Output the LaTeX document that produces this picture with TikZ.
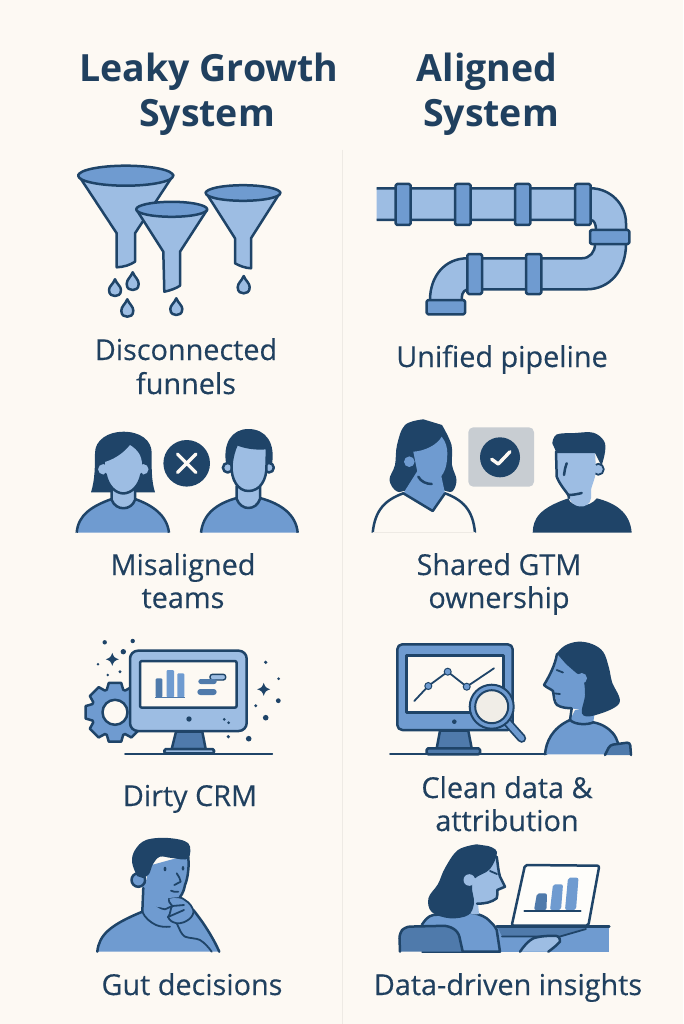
\documentclass[tikz,border=0pt]{standalone}
\usepackage{fontspec}
\setmainfont{Open Sans}
\newfontfamily\labfont[FakeBold=0.35]{Open Sans}
\definecolor{bgc}{HTML}{FDF9F3}
\definecolor{dk}{HTML}{1F4468}
\definecolor{dk2}{HTML}{4F7AAB}
\definecolor{md}{HTML}{6F9BD0}
\definecolor{lt}{HTML}{9DBDE3}
\definecolor{ttl}{HTML}{20405F}
\definecolor{badge}{HTML}{C8CDD2}
\tikzset{
 ol/.style={draw=dk,line width=2.5pt,line join=round,line cap=round},
 ln/.style={draw=dk,line width=1.8pt,line join=round,line cap=round},
 sm/.style={smooth,tension=0.6},
 title/.style={text=ttl,font=\fontsize{37.5}{37.5}\selectfont\bfseries,anchor=base},
 label/.style={text=ttl,font=\labfont\fontsize{28.8}{28.8}\selectfont,anchor=base},
}
\newcommand{\drop}[3]{\draw[ol,fill=lt] (#1,#2) .. controls (#1+2,#2+5) and (#1+6,#2+7) .. (#1+6,#3-6) .. controls (#1+6,#3-1) and (#1+2.5,#3) .. (#1,#3) .. controls (#1-2.5,#3) and (#1-6,#3-1) .. (#1-6,#3-6) .. controls (#1-6,#2+7) and (#1-2,#2+5) .. (#1,#2) -- cycle;}
\newcommand{\sparkle}[3]{\fill[dk] (#1,#2-#3) .. controls (#1+1.8,#2-1.8) .. (#1+#3,#2) .. controls (#1+1.8,#2+1.8) .. (#1,#2+#3) .. controls (#1-1.8,#2+1.8) .. (#1-#3,#2) .. controls (#1-1.8,#2-1.8) .. (#1,#2-#3) -- cycle;}
\begin{document}
\begin{tikzpicture}[x=1pt,y=-1pt]
\fill[bgc] (0,0) rectangle (683,1024);
\useasboundingbox (0,0) rectangle (683,1024);
\draw[color=black!6!bgc,line width=1pt] (342,150) -- (342,1024);

% titles
\node[title] (t1) at (209,82) {Leaky Growth};
\node[title] (t2) at (207,127) {System};
\node[title] (t3) at (487,82) {Aligned};
\node[title] (t4) at (491,127) {System};
% labels
\node[label] (l1) at (186,360) {Disconnected};
\node[label] (l2) at (186,394) {funnels};
\node[label] (l3) at (502,367) {Unified pipeline};
\node[label] (l4) at (183,575) {Misaligned};
\node[label] (l5) at (183,608) {teams};
\node[label] (l6) at (499,575) {Shared GTM};
\node[label] (l7) at (499,608) {ownership};
\node[label] (l8) at (190,806) {Dirty CRM};
\node[label] (l9) at (507,798) {Clean data \&};
\node[label] (l10) at (507,831) {attribution};
\node[label] (l11) at (192,995) {Gut decisions};
\node[label] (l12) at (508,995) {Data-driven insights};

% ---------- funnels
\draw[ol,fill=lt] (78.3,175) -- (116.7,233.3) -- (116.7,267.3) .. controls (124,267) and (130,265) .. (135,261.7) -- (135,233.3) -- (173.3,175) -- cycle;
\draw[ol,fill=md] (125.7,175.7) ellipse [x radius=47.5,y radius=10];
\draw[ol,fill=lt] (205.7,192.3) -- (235,238.3) -- (235,263.3) .. controls (240,266) and (245,268) .. (251,268.3) -- (251,238.3) -- (280.3,192.3) -- cycle;
\draw[ol,fill=md] (243,193) ellipse [x radius=37.3,y radius=7.8];
\draw[ol,fill=lt] (136.7,210) -- (163.3,251.7) -- (164.3,291.7) .. controls (170,290.5) and (176,288.5) .. (180,285.7) -- (180,251.7) -- (207,210) -- cycle;
\draw[ol,fill=md] (171.7,209.3) ellipse [x radius=35.5,y radius=7.5];
\drop{115}{279.3}{296}
\drop{132.7}{272.3}{290}
\drop{127.3}{299.3}{316.7}
\drop{176.3}{298.3}{315}
\drop{243.7}{276}{293.3}

% ---------- pipeline
\fill[lt] (376.7,188.3) -- (590.7,188.3) .. controls (610,188.3) and (626,204) .. (626,223.3) -- (626,244) .. controls (626,270) and (610,289.3) .. (586.7,289.3) -- (467.3,289.3) .. controls (462,291) and (461.7,296) .. (461.7,300) -- (430,300) .. controls (430,276) and (445,258.3) .. (467.3,258.3) -- (581.7,258.3) .. controls (590,258.3) and (595,252) .. (595,244) -- (596,230) .. controls (596,224) and (594,220) .. (590.7,220) -- (376.7,220) -- cycle;
\draw[ol,line cap=butt] (376.7,188.3) -- (590.7,188.3) .. controls (610,188.3) and (626,204) .. (626,223.3) -- (626,244) .. controls (626,270) and (610,289.3) .. (586.7,289.3) -- (467.3,289.3) .. controls (462,291) and (461.7,296) .. (461.7,300);
\draw[ol,line cap=butt] (430,300) .. controls (430,276) and (445,258.3) .. (467.3,258.3) -- (581.7,258.3) .. controls (590,258.3) and (595,252) .. (595,244) -- (596,230) .. controls (596,224) and (594,220) .. (590.7,220) -- (376.7,220);
\foreach \a/\b in {395.7/410.7,455/470.7,515/530.3,575/590.7}
  \draw[ol,fill=md,rounded corners=1.5pt] (\a,184) rectangle (\b,225);
\foreach \a/\b in {467.3/482,526/541.3}
  \draw[ol,fill=md,rounded corners=1.5pt] (\a,254) rectangle (\b,294);
\draw[ol,fill=md,rounded corners=1.5pt] (590,230) rectangle (629.3,244);
\draw[ol,fill=md,rounded corners=1.5pt] (426.7,300) rectangle (465,314.3);

% ---------- misaligned woman
\fill[md] (76.7,532.7) .. controls (78,515) and (92,506) .. (111.7,499) -- (135,499) .. controls (152,505) and (167,515) .. (169,532.7) -- cycle;
\draw[ol,line cap=butt] (76.7,532.7) .. controls (78,515) and (92,506) .. (111.7,499);
\draw[ol,line cap=butt] (135,499) .. controls (152,505) and (167,515) .. (169,532.7);
\fill[dk] (91,492.3) .. controls (95,480) and (95,465) .. (95,453) .. controls (95,440) and (108,431.7) .. (123.3,431.7) .. controls (140,431.7) and (151.7,440) .. (151.7,453) .. controls (151.7,465) and (151,480) .. (155,492.3) -- cycle;
\draw[ol,fill=lt] (111.7,488) -- (111.7,500) .. controls (116,511) and (131,511) .. (135,500) -- (135,488) -- cycle;
\fill[lt] (103.3,469.3) circle (5.2) (143.3,469.3) circle (5.2);
\fill[lt] (105,462) .. controls (118,458) and (126,450) .. (130,445) .. controls (138,450) and (142,456) .. (142,465) .. controls (142,482) and (134,493) .. (123.3,493.5) .. controls (113,493) and (105,482) .. (105,465) -- cycle;
\draw[ol] (105.5,474) .. controls (108,486) and (115,493) .. (123.3,493.5) .. controls (132,493) and (139,486) .. (141.5,474);
% X badge
\fill[dk] (186.7,463.3) circle (23.3);
\draw[color=bgc,line width=3.2pt,line cap=round] (177.4,454) -- (196,472.6) (196,454) -- (177.4,472.6);
% misaligned man
\fill[md] (201,532.7) .. controls (203,515) and (215,504) .. (236.7,498) -- (260,498) .. controls (282,504) and (296,515) .. (297.7,532.7) -- cycle;
\draw[ol,line cap=butt] (201,532.7) .. controls (203,515) and (215,504) .. (236.7,498);
\draw[ol,line cap=butt] (260,498) .. controls (282,504) and (296,515) .. (297.7,532.7);
\draw[ol,fill=lt] (236.7,486) -- (236.7,499) .. controls (241,511) and (256,511) .. (260,499) -- (260,486) -- cycle;
\fill[dk] (226.5,466) .. controls (222,443) and (232,429) .. (248.3,429) .. controls (266,429) and (276,443) .. (271.7,466) -- cycle;
\draw[ol,fill=lt] (227.7,467.7) circle (4.8) (269,467.7) circle (4.8);
\draw[ol,fill=lt] (231.5,465) .. controls (232,458) and (234,450) .. (237,444) .. controls (246,448) and (258,449) .. (267,448) -- (266.5,465) .. controls (267,480) and (260,491) .. (248.5,491) .. controls (238,491) and (231,480) .. (231.5,465) -- cycle;

% ---------- shared woman
\draw[ol,fill=bgc,line cap=butt] (372.7,532.7) .. controls (375,510) and (385,500) .. (403.3,493.3) -- (445,493.3) .. controls (463,500) and (473,510) .. (475,532.7);
\draw[color=black!6!bgc,line width=1pt] (373,532.7) -- (475,532.7);
\fill[dk] plot[sm] coordinates {(423.3,419.3) (405,425) (397,445) (395,465) (389.5,480) (397,491.5) (410,490) (440,490) (452,491.5) (456.5,480) (452,465) (451.5,445) (442,425)};
\fill[md] (403.3,493.3) -- (432.7,511) -- (445,493.3) -- (440,470) -- (418,470) -- cycle;
\draw[ol] (403.3,493.3) -- (432.7,511) -- (445,493.3);
\fill[md] (413.3,451.7) .. controls (425,451) and (437,445) .. (441.7,436.7) .. controls (446,442) and (447.3,448) .. (447.3,453) .. controls (447.3,465) and (445,472) .. (440,478) .. controls (437,482) and (434,484) .. (431.7,484) .. controls (425,484) and (420,480) .. (418.3,476.7) -- cycle;
\draw[ol] (418.3,476.7) .. controls (421,482) and (427,484) .. (431.7,484);
\fill[md] (409.3,461.7) circle (5.3);
% check badge
\fill[badge,rounded corners=5pt] (468.3,427.3) rectangle (534,486.7);
\fill[dk] (500,457.3) circle (20);
\draw[color=bgc,line width=3.4pt,line cap=round,line join=round] (491.7,459.3) -- (498.3,464) -- (510,451.7);
% shared man
\fill[dk] (532.7,532.7) .. controls (533,518) and (540,508) .. (568.3,498.3) .. controls (571,508) and (590,508) .. (596.7,498.3) .. controls (615,503) and (630,512) .. (631.7,532.7) -- cycle;
\fill[lt] (568,494) .. controls (570,510) and (590,510) .. (591,498) -- (591,480) -- (570,485) -- cycle;
\draw[ln,fill=lt] (598.3,469.3) circle (5.5);
\fill[lt] (556,451.7) -- (595,451.7) -- (596,470) -- (595,476.7) .. controls (592,487) and (590,490) .. (590,495) -- (568.3,495) .. controls (563,488) and (556.7,482) .. (556.7,476.7) -- cycle;
\draw[ol] (556,451.7) -- (556.7,476.7) .. controls (560,485) and (565,490) .. (568.3,495);
\draw[ol] (568.3,495) -- (569,498) (568.3,495) .. controls (573,495) and (578,494) .. (581.7,493);
\draw[ol] (566.7,463.3) .. controls (565,468) and (564.5,471) .. (564,475);
\fill[dk] plot[sm] coordinates {(552.3,443.3) (556.7,434.5) (575,433) (593.3,432.7) (604,441) (605,452) (601.5,466)} -- (595,453) -- (556.7,453) -- cycle;

% ---------- dirty CRM gear
\draw[ol,fill=md] ([shift={(115,712.3)}]-12:30)
  \foreach \a in {0,45,...,315}{ -- ([shift={(115,712.3)}]\a-12:30) -- ([shift={(115,712.3)}]\a+12:30) -- ([shift={(115,712.3)}]\a+20:24) -- ([shift={(115,712.3)}]\a+25:24) } -- cycle;
\draw[ol,fill=bgc] (115,712.3) circle (12.5);
% monitor
\draw[ol,fill=dk2] (176,731.7) -- (171.7,749) -- (205.7,749) -- (202.3,731.7) -- cycle;
\draw[ol,fill=lt,rounded corners=1.5pt] (164.3,749) rectangle (214,753.3);
\draw[ol,fill=lt,rounded corners=8pt] (130,650.7) rectangle (246.7,731);
\draw[ol,fill=bgc,rounded corners=2pt] (140,661) rectangle (236.7,707.7);
\draw[ln] (125,753.7) -- (272.3,753.7);
\fill[dk2,rounded corners=1pt] (155.7,678.3) rectangle (162.3,697.3);
\fill[md,rounded corners=1pt] (166.7,670) rectangle (174,697.3);
\fill[md,rounded corners=1pt] (177.3,673.3) rectangle (184.3,697.3);
\draw[color=dk2,line width=1.2pt] (155,697.5) -- (184.5,697.5);
\draw[ln,fill=lt,rounded corners=2.5pt,line width=1.4pt] (210,674.3) rectangle (225.7,680);
\fill[dk2,rounded corners=2.5pt] (198.3,679) rectangle (216.7,684);
\fill[dk2,rounded corners=3pt] (197.3,689) rectangle (216.7,695);
\fill[dk] (189,719) circle (2.7) (224.3,719.3) circle (1.5) (228.7,722.7) circle (1.5);
\sparkle{112.3}{659.3}{6.5}
\sparkle{263.7}{689.3}{6.5}
\fill[dk] (104.7,642.3) circle (2.2) (132.7,641) circle (2.2) (123.3,651.7) circle (2.7) (98,664.3) circle (1.4) (107.7,675) circle (1.4) (120,671.7) circle (1.7) (265.7,662.3) circle (1.8) (278.7,678.7) circle (1.5) (278.3,700.7) circle (2.4) (255.7,705.7) circle (1.6) (265.7,717.7) circle (2.8) (228.3,736.7) circle (1.8) (248.7,738.7) circle (2.8);

% ---------- clean data monitor
\draw[ol,fill=dk2] (440,730.7) -- (436.7,748.3) -- (471.7,748.3) -- (468.3,730.7) -- cycle;
\draw[ol,fill=dk2,rounded corners=1.5pt] (426.7,748.3) rectangle (480,754.3);
\draw[ln] (390,754.3) -- (546.7,754.3);
\draw[ol,fill=md,rounded corners=5pt] (397.3,644.3) rectangle (512.7,730);
\draw[ol,fill=bgc] (406.7,655.7) rectangle (503.3,712.3);
\draw[ln] (414.3,701) -- (428.3,686) -- (447.7,671.7) -- (466.7,686.7) -- (494,668.3);
\foreach \p in {(428.3,686),(447.7,671.7),(466.7,686.7)} \draw[draw=dk,line width=1pt,fill=md] \p circle (3.5);
\fill[dk] (454.3,721.7) circle (2.3);
\draw[draw=dk,line width=9pt,line cap=round] (508.3,723.3) -- (521.7,738.3);
\draw[draw=md,line width=5.4pt,line cap=round] (508.3,723.3) -- (521.7,738.3);
\draw[draw=dk,line width=2pt,fill=md] (491.7,706.7) circle (22);
\draw[draw=dk,line width=2pt,fill=black!5!bgc] (491.7,706.7) circle (16.5);
% clean data woman
\fill[md] (545,754.3) .. controls (546,742) and (552,728) .. (570,720) -- (575,710) -- (595,710) -- (593.3,722.3) -- (613.3,731.7) .. controls (618,738) and (620,745) .. (620.5,754.3) -- cycle;
\draw[ol] (545,754.3) .. controls (546,742) and (552,728) .. (570,720) .. controls (575,725) and (588,725) .. (593.3,722.3) .. controls (603,724) and (612,730) .. (616,738) .. controls (618,743) and (620,748) .. (620.5,752);
\draw[ol] (571.7,708.3) -- (570,720);
\fill[md] (558.3,655) -- (585,660) -- (590,712) -- (571.7,708.3) .. controls (565,707) and (558,706) .. (556.7,703) -- (554,692) -- (550,688) -- (544,685) -- (551,672) -- cycle;
\draw[ol] (557,654) .. controls (555,665) and (550,675) .. (544,685) .. controls (547,688) and (551,689) .. (553,691) .. controls (554,697) and (554,702) .. (557,705) .. controls (562,708) and (567,708) .. (571.7,708.3);
\fill[dk] plot[sm] coordinates {(556.7,653.3) (565,645.5) (578,641.7) (592,644) (603.3,652) (609,668) (612,682) (619.3,703.3) (594,715.5) (582,713.5) (585,695) (583,678) (576.7,673.3) (566,664)};
\fill[md] (581.7,678.3) circle (5.3);
\draw[ln] (556.7,670) -- (563,672.5);
\draw[ln] (553.3,693.3) -- (560,694);
\draw[ol,fill=dk2,rounded corners=3pt] (605,755) -- (610,745) -- (630,742.3) -- (631,755);

% ---------- gut decisions man
\fill[md] (97.3,951.7) .. controls (99,935) and (110,925) .. (142.3,911.7) -- (142.3,880) -- (170,880) -- (175,900) -- (193.3,910) .. controls (200,918) and (212,935) .. (219.3,951.7) -- cycle;
\draw[ol] (97.3,951.7) .. controls (99,935) and (110,925) .. (142.3,911.7) -- (143.3,888);
\draw[ol] (193.3,910) .. controls (200,918) and (212,935) .. (219.3,951.7);
\draw[ln] (142.3,911.7) .. controls (145,918) and (150,922) .. (156,925) .. controls (161,927) and (165,927) .. (170,926.7);
\draw[ln] (176.7,923.3) .. controls (180,930) and (181,934) .. (185,936.7) .. controls (190,938.5) and (196,938) .. (200,940) .. controls (205,943) and (209,948) .. (211.7,951.7);
\draw[ln,fill=md] (168.3,898) .. controls (175,896) and (182,897) .. (185,900) .. controls (190,903) and (192,907) .. (193.3,910) .. controls (195,916) and (186,924) .. (176.7,923.3) .. controls (172,922) and (170,921) .. (168,917) .. controls (171,914) and (170,908) .. (172.3,906) .. controls (170,903) and (168,901) .. (168.3,898) -- cycle;
\draw[ln] (172.3,906) -- (184,905);
\draw[ln] (168,917) -- (184,910);
\draw[ln] (152.7,901.7) .. controls (156,905) and (160,909) .. (165,909.3) -- (172.3,906);
\draw[ol,fill=md] (138.3,880) circle (6.8);
\fill[md] (148,866) -- (188,855) .. controls (189.5,865) and (188,878) .. (185,885) .. controls (184,890) and (183,893) .. (180,897) -- (168.3,898) -- (166,908) -- (144,905) -- cycle;
\draw[ol] (188,855) .. controls (189.5,865) and (188,878) .. (185,885) .. controls (184,890) and (183,893) .. (180,897);
\draw[ln] (176.7,873.3) .. controls (179,876) and (180,879) .. (180.7,881.7) -- (174.3,885);
\draw[ln] (171,890.7) .. controls (173,892) and (176,892) .. (178.3,891.7);
\fill[dk] (165,869) ellipse (1.4 and 2.3) (183,868.3) ellipse (1.3 and 2.3);
\fill[dk] plot[sm] coordinates {(137,876) (132,862) (135,850) (146,840) (168.3,838) (188.3,843.3) (188,858.5) (172,858) (160,856.7) (153,864) (149,874) (143,878)};

% ---------- data-driven woman
\fill[md] (496.7,926.7) rectangle (609.3,951.7);
\draw[ol] (496.7,926.7) -- (609.3,926.7);
\fill[dk2] (498,928) -- (586,928) -- (560,936.5) -- (502,936.5) -- cycle;
\draw[ln] (586,929) -- (560,936.5) -- (502,936.5);
\draw[ol,fill=white!60!bgc,rounded corners=2pt] (525,865) -- (599.3,865.7) -- (588.3,925.7) -- (511.7,925.7) -- cycle;
\fill[dk2,rounded corners=2pt] (534,910) -- (537,893.3) -- (547,893.3) -- (546.5,910) -- cycle;
\fill[md,rounded corners=2pt] (550,910) -- (553,884.3) -- (563,884.3) -- (561,910) -- cycle;
\fill[md,rounded corners=2pt] (565,910) -- (568,877.7) -- (578.5,877.7) -- (576,910) -- cycle;
\draw[ln] (524.3,911) -- (580.7,911);
\draw[ol,fill=md,line cap=butt] (421.7,925) .. controls (425,920) and (428,916) .. (433.3,915) -- (468.3,912.3) .. controls (475,913) and (482,915) .. (486.7,918.3) .. controls (492,923) and (495,926) .. (496.7,930) -- (500,951.7) -- (421.7,951.7);
\fill[lt] (468,912) -- (470,880) -- (480,860) -- (496.7,856.7) .. controls (498,865) and (498,870) .. (500,876.7) -- (505,886.7) -- (497.3,890) -- (496.7,898.3) -- (485,903.3) -- (478,903.3) -- (479,914) .. controls (475,915) and (470,914) .. (468,912) -- cycle;
\draw[ol] (496.7,856.7) .. controls (498,865) and (498,870) .. (500,876.7) -- (505,886.7) -- (497.3,890) .. controls (497.5,893) and (497.5,896) .. (496.7,898.3) .. controls (492,902) and (485,904) .. (477,903.5);
\fill[dk] plot[sm] coordinates {(476.7,844.3) (458,850) (445,868) (438,884) (428.5,898) (431.7,912) (450,918.3) (468.3,915) (474,903) (472,888) (475,878.3) (490,869) (497,852) (488,846)};
\fill[lt] (469.3,880) circle (5.8);
\draw[ln] (490,871) -- (497,874);
\draw[ol,fill=dk2,rounded corners=5pt] (400,951.7) -- (399.3,933.3) -- (405,926.7) -- (448.3,925.7) -- (458.3,931.7) -- (462.7,951.7);
\draw[ol,fill=lt] (520,951.7) .. controls (524,946) and (528,941) .. (533.3,938.3) .. controls (540,936) and (550,935.5) .. (556.7,936) .. controls (560,937) and (560,940) .. (560,941.7) .. controls (556,946) and (552,949) .. (548.3,951.7);
\end{tikzpicture}
\end{document}
